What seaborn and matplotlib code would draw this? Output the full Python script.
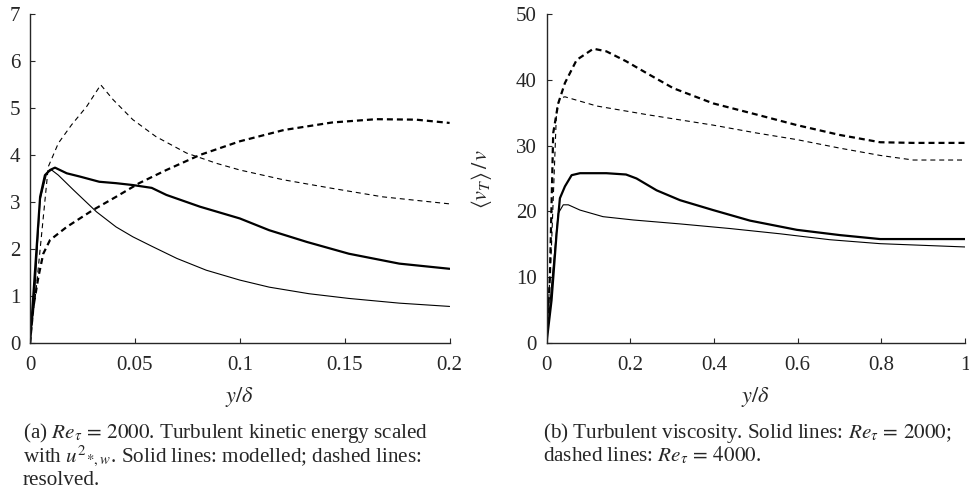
"""
Turbulent kinetic energy and turbulent viscosity profiles
"""

import numpy as np
import pandas as pd
import matplotlib
matplotlib.use('Agg')
import matplotlib.pyplot as plt
import seaborn as sns

# ============================================================
# DATA
# ============================================================

# (a) kinetic energy, Re_tau = 2000
ke_mod_thick_x = [0, 0.0048, 0.0071, 0.0095, 0.0119, 0.0175, 0.0238, 0.033, 0.041, 0.049, 0.058,
                  0.065, 0.081, 0.1, 0.114, 0.132, 0.152, 0.176, 0.2]
ke_mod_thick_y = [0, 3.11, 3.57, 3.68, 3.73, 3.61, 3.54, 3.43, 3.40, 3.36, 3.30,
                  3.15, 2.90, 2.65, 2.40, 2.15, 1.90, 1.69, 1.58]

ke_mod_thin_x = [0, 0.0024, 0.0048, 0.0079, 0.0103, 0.0135, 0.0206, 0.0317, 0.041, 0.049, 0.058,
                 0.07, 0.084, 0.1, 0.114, 0.133, 0.152, 0.176, 0.2]
ke_mod_thin_y = [0, 1.2, 3.04, 3.61, 3.68, 3.57, 3.26, 2.79, 2.47, 2.26, 2.06,
                 1.80, 1.55, 1.34, 1.19, 1.05, 0.95, 0.85, 0.78]

ke_res_thin_x = [0, 0.0032, 0.0087, 0.0135, 0.0198, 0.027, 0.0337, 0.0397, 0.049, 0.060,
                 0.0746, 0.089, 0.1, 0.121, 0.144, 0.168, 0.2]
ke_res_thin_y = [0, 1.27, 3.75, 4.25, 4.64, 5.03, 5.49, 5.17, 4.75, 4.39,
                 4.04, 3.82, 3.68, 3.47, 3.29, 3.11, 2.96]

ke_res_thick_x = [0, 0.0016, 0.004, 0.0063, 0.0095, 0.0175, 0.030, 0.041, 0.052, 0.065,
                  0.081, 0.1, 0.121, 0.144, 0.165, 0.184, 0.2]
ke_res_thick_y = [0, 0.77, 1.41, 1.90, 2.19, 2.47, 2.83, 3.11, 3.40, 3.68,
                  4.00, 4.29, 4.53, 4.69, 4.76, 4.75, 4.68]

# (b) turbulent viscosity
nu_4000_thick_x = [0, 0.008, 0.016, 0.028, 0.044, 0.072, 0.112, 0.143, 0.19, 0.239, 0.303,
                   0.398, 0.502, 0.598, 0.701, 0.797, 0.876, 1.0]
nu_4000_thick_y = [0, 10, 31.9, 36.4, 39.5, 43.0, 44.7, 44.3, 42.8, 41.0, 38.7,
                   36.4, 34.7, 33.1, 31.6, 30.5, 30.4, 30.4]

nu_4000_thin_x = [0, 0.012, 0.024, 0.032, 0.044, 0.12, 0.239, 0.398, 0.502, 0.598, 0.701,
                  0.797, 0.876, 1.0]
nu_4000_thin_y = [0, 15, 35.4, 37.2, 37.4, 36.0, 34.7, 33.1, 31.9, 30.9, 29.6,
                  28.5, 27.8, 27.8]

nu_2000_thick_x = [0, 0.012, 0.024, 0.032, 0.044, 0.06, 0.08, 0.143, 0.19, 0.215, 0.263,
                   0.319, 0.398, 0.486, 0.598, 0.701, 0.797, 1.0]
nu_2000_thick_y = [0, 6.5, 16.6, 22.0, 23.8, 25.5, 25.8, 25.8, 25.6, 25.0, 23.2,
                   21.7, 20.2, 18.6, 17.2, 16.4, 15.8, 15.8]

nu_2000_thin_x = [0, 0.016, 0.028, 0.04, 0.052, 0.08, 0.135, 0.207, 0.319, 0.438, 0.558,
                  0.677, 0.797, 1.0]
nu_2000_thin_y = [0, 11.6, 19.7, 21.0, 21.0, 20.2, 19.2, 18.7, 18.1, 17.4, 16.6,
                  15.7, 15.1, 14.6]

# ============================================================
# STYLE
# ============================================================

sns.set_style('ticks')
plt.rcParams['font.family'] = ['Liberation Serif', 'DejaVu Serif']
plt.rcParams['mathtext.fontset'] = 'stix'

THICK = 1.6
THIN = 0.8


def draw(ax, x, y, lw, dashes=None):
    df = pd.DataFrame({'x': x, 'y': y})
    line = sns.lineplot(data=df, x='x', y='y', ax=ax, color='black', lw=lw,
                        estimator=None, sort=False).lines[-1]
    if dashes is not None:
        line.set_dashes(dashes)


fig = plt.figure(figsize=(9.69, 4.93), dpi=100)
ax1 = fig.add_axes([0.031, 0.304, 0.433, 0.668])
ax2 = fig.add_axes([0.564, 0.304, 0.432, 0.668])

# (a)
draw(ax1, ke_mod_thick_x, ke_mod_thick_y, THICK)
draw(ax1, ke_mod_thin_x, ke_mod_thin_y, THIN)
draw(ax1, ke_res_thin_x, ke_res_thin_y, THIN, (4.5, 3.5))
draw(ax1, ke_res_thick_x, ke_res_thick_y, THICK, (2.7, 1.8))
ax1.set_xlim(0, 0.2)
ax1.set_ylim(0, 7)
ax1.set_xticks([0, 0.05, 0.1, 0.15, 0.2])
ax1.set_xticklabels(['0', '0.05', '0.1', '0.15', '0.2'])
ax1.set_yticks(range(8))
ax1.set_ylabel('')

# (b)
draw(ax2, nu_4000_thick_x, nu_4000_thick_y, THICK, (2.7, 1.8))
draw(ax2, nu_4000_thin_x, nu_4000_thin_y, THIN, (4.5, 3.5))
draw(ax2, nu_2000_thick_x, nu_2000_thick_y, THICK)
draw(ax2, nu_2000_thin_x, nu_2000_thin_y, THIN)
ax2.set_xlim(0, 1)
ax2.set_ylim(0, 50)
ax2.set_xticks([0, 0.2, 0.4, 0.6, 0.8, 1])
ax2.set_xticklabels(['0', '0.2', '0.4', '0.6', '0.8', '1'])
ax2.set_yticks([0, 10, 20, 30, 40, 50])
ax2.set_ylabel(r'$\langle v_T\rangle\,/\,v$', fontsize=16)
ax2.yaxis.set_label_coords(-0.125, 0.5)

for ax in (ax1, ax2):
    sns.despine(ax=ax)
    ax.spines['left'].set_linewidth(1.0)
    ax.spines['bottom'].set_linewidth(1.0)
    ax.tick_params(direction='in', length=3.5, width=0.8, labelsize=15)
    ax.tick_params(axis='x', pad=9)
    ax.tick_params(axis='y', pad=7)
    ax.set_xlabel(r'$y/\delta$', fontsize=16)
    ax.xaxis.set_label_coords(0.5, -0.128)

# captions under each panel
fs = 15.2
fig.text(0.0237, 0.1116, r'(a) $Re_\tau\,=\,2000$. Turbulent kinetic energy scaled', fontsize=fs)
fig.text(0.0237, 0.0635, r'with $u^2{}_{*,w}$. Solid lines: modelled; dashed lines:', fontsize=fs)
fig.text(0.0237, 0.0170, 'resolved.', fontsize=fs)
fig.text(0.560, 0.1116, r'(b) Turbulent viscosity. Solid lines: $Re_\tau\,=\,2000$;', fontsize=fs)
fig.text(0.560, 0.0635, r'dashed lines: $Re_\tau\,=\,4000$.', fontsize=fs)

fig.savefig('out.png', dpi=100)
